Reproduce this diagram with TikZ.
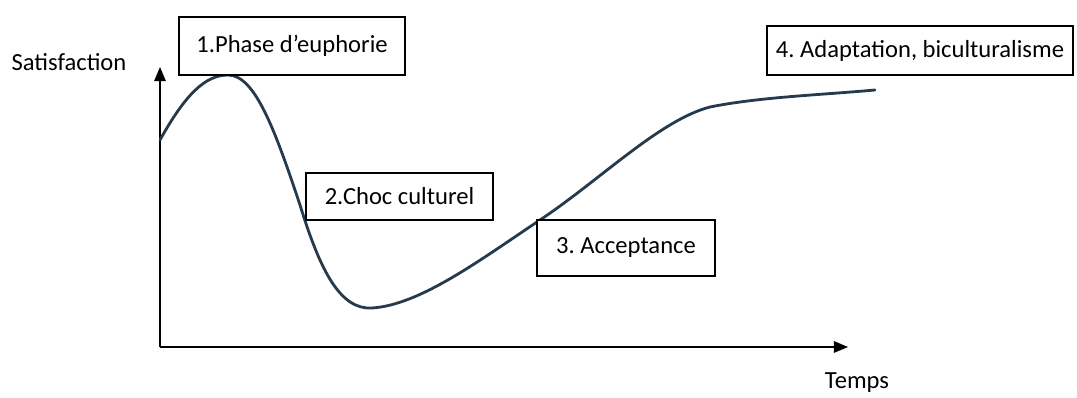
\documentclass[tikz,border=0pt]{standalone}
\usepackage{fontspec}
\setmainfont{Carlito}
\usepackage{tikz}
\usetikzlibrary{arrows.meta}
\frenchspacing

\definecolor{courbe}{RGB}{38,58,78}

\tikzset{
    phase/.style={draw, thick, fill=white, inner sep=0pt, font=\fontsize{14}{16}\selectfont},
    axe/.style={line width=0.9pt, -{Triangle[length=8pt,width=6.5pt]}}
}

\begin{document}
\begin{tikzpicture}[x=0.02cm, y=-0.02cm]
    \useasboundingbox (0,0) rectangle (1077,398);

    \coordinate (O) at (160,347);
    \coordinate (Y) at (160,67);
    \coordinate (X) at (848,347);

    \draw[axe] (O) -- (Y);
    \draw[axe] (O) -- (X);

    % courbe en U
    \draw[courbe, line width=1.6pt, line cap=round]
        (160,140) .. controls (185,95) and (205,75) .. (228,75)
        .. controls (255,75) and (275,130) .. (300,205)
        .. controls (320,270) and (340,310) .. (372,308)
        .. controls (420,305) and (480,260) .. (540,220)
        .. controls (600,180) and (660,120) .. (710,107)
        .. controls (760,97) and (820,95) .. (875,90);

    \node[phase, minimum width=4.52cm, minimum height=1.16cm] (euphorie) at (292,46) {1.Phase d’euphorie};
    \node[phase, minimum width=3.74cm, minimum height=0.94cm] (choc) at (399.5,196.5) {2.Choc culturel};
    \node[phase, minimum width=3.56cm, minimum height=1.12cm] (acceptance) at (626,248) {3. Acceptance};
    \node[phase, minimum width=6.12cm, minimum height=0.98cm] (adaptation) at (920,50.5) {4. Adaptation, biculturalisme};

    \node[font=\fontsize{14}{16}\selectfont] (satisfaction) at (69,62) {Satisfaction};
    \node[font=\fontsize{14}{16}\selectfont] (temps) at (857,383) {Temps};
\end{tikzpicture}
\end{document}
